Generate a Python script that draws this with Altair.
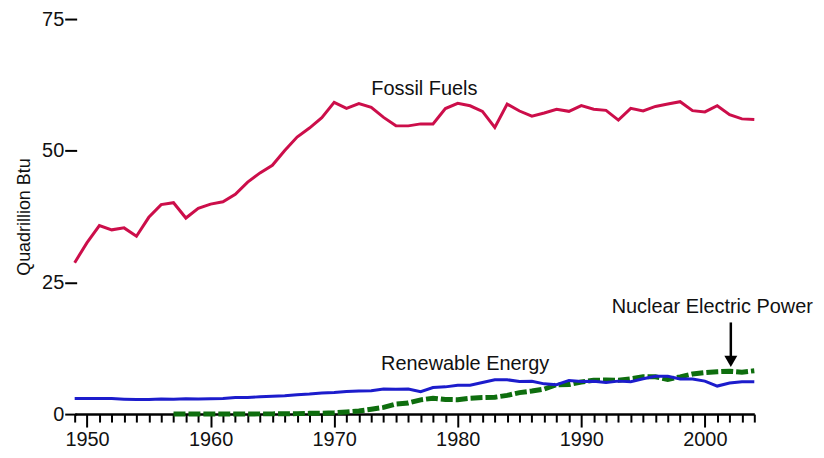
import altair as alt
import pandas as pd

years = list(range(1949, 2005))

fossil = [28.75, 32.56, 35.79, 34.98, 35.35, 33.76, 37.36, 39.77, 40.13, 37.22,
          39.05, 39.87, 40.31, 41.73, 44.04, 45.79, 47.24, 50.04, 52.60, 54.31,
          56.29, 59.19, 58.04, 58.94, 58.24, 56.33, 54.73, 54.72, 55.10, 55.07,
          58.01, 59.01, 58.53, 57.46, 54.42, 58.85, 57.54, 56.58, 57.17, 57.87,
          57.48, 58.56, 57.87, 57.66, 55.82, 58.04, 57.54, 58.41, 58.86, 59.31,
          57.61, 57.37, 58.54, 56.83, 56.05, 55.94]

renewable = [2.97, 2.98, 2.96, 2.94, 2.83, 2.75, 2.78, 2.85, 2.83, 2.90,
             2.86, 2.93, 2.97, 3.13, 3.15, 3.29, 3.40, 3.50, 3.69, 3.80,
             4.02, 4.08, 4.27, 4.40, 4.43, 4.77, 4.72, 4.77, 4.25, 5.04,
             5.17, 5.49, 5.48, 6.00, 6.53, 6.52, 6.19, 6.22, 5.74, 5.57,
             6.39, 6.21, 6.24, 5.99, 6.26, 6.16, 6.70, 7.17, 7.18, 6.66,
             6.68, 6.26, 5.32, 5.90, 6.15, 6.12]

nuclear_years = list(range(1957, 2005))
nuclear = [0.002, 0.002, 0.002, 0.006, 0.020, 0.026, 0.038, 0.040, 0.043, 0.064,
           0.088, 0.142, 0.154, 0.239, 0.413, 0.584, 0.910, 1.272, 1.900, 2.111,
           2.702, 3.024, 2.776, 2.739, 3.008, 3.131, 3.203, 3.553, 4.076, 4.380,
           4.754, 5.587, 5.602, 6.104, 6.422, 6.479, 6.410, 6.694, 7.075, 7.087,
           6.597, 7.068, 7.610, 7.862, 8.033, 8.143, 7.959, 8.232]

label_text = ["Fossil Fuels", "Renewable Energy", "Nuclear Electric Power"]
label_x = [1977.3, 1980.6, 2000.6]
label_y = [61.8, 9.5, 20.3]

arrow_x = [2002.1]
arrow_top = [17.4]
arrow_bottom = [10.8]
arrow_head = [10.0]

tick_years = years
y_ticks = [0, 25, 50, 75]

df_f = pd.DataFrame({"year": years, "value": fossil})
df_r = pd.DataFrame({"year": years, "value": renewable})
df_n = pd.DataFrame({"year": nuclear_years, "value": nuclear})
df_lab = pd.DataFrame({"year": label_x, "value": label_y, "text": label_text})
df_arrow = pd.DataFrame({"year": arrow_x, "top": arrow_top, "bottom": arrow_bottom,
                         "head": arrow_head})

FONT = "Liberation Sans"
TXT = "#111111"
IS_MAJOR = "datum.value % 10 == 0"

xscale = alt.Scale(domain=[1949, 2004], nice=False, zero=False)
yscale = alt.Scale(domain=[0, 75], nice=False)

x_axis = alt.Axis(values=tick_years, format="d", title=None,
                  labelExpr=IS_MAJOR + " ? datum.label : ''",
                  tickSize={"condition": {"test": IS_MAJOR, "value": 13}, "value": 8})
y_axis = alt.Axis(values=y_ticks, title="Quadrillion Btu")

X = alt.X("year:Q", scale=xscale, axis=x_axis)
Y = alt.Y("value:Q", scale=yscale, axis=y_axis)

fossil_line = alt.Chart(df_f).mark_line(color="#cc0e4a", strokeWidth=3).encode(x=X, y=Y)
renew_line = alt.Chart(df_r).mark_line(color="#1c1ccc", strokeWidth=3).encode(x=X, y=Y)
nuc_line = alt.Chart(df_n).mark_line(color="#0e6e0e", strokeWidth=5,
                                     strokeDash=[12, 3]).encode(x=X, y=Y)

labels = alt.Chart(df_lab).mark_text(font=FONT, fontSize=20, color=TXT,
                                     align="center", baseline="middle").encode(
    x=X, y=Y, text="text:N")

arrow_line = alt.Chart(df_arrow).mark_rule(color="black", strokeWidth=2.5).encode(
    x=X, y=alt.Y("top:Q", scale=yscale, axis=y_axis), y2="bottom:Q")
arrow_tip = alt.Chart(df_arrow).mark_point(shape="triangle-down", filled=True, color="black",
                                           size=170, opacity=1).encode(
    x=X, y=alt.Y("head:Q", scale=yscale, axis=y_axis))

chart = alt.layer(fossil_line, nuc_line, renew_line, labels, arrow_line, arrow_tip).properties(
    width=683, height=397,
    autosize=alt.AutoSizeParams(type="none"),
    padding={"left": 67, "top": 10, "right": 62, "bottom": 40},
).configure(background="white").configure_view(
    strokeWidth=0, stroke="transparent"
).configure_axisX(
    tickWidth=2, tickColor="black", domainColor="black", domainWidth=2.5,
    labelFontSize=20, labelFont=FONT, labelColor=TXT, labelPadding=3, grid=False,
    labelFlush=False, labelOverlap=False, labelBound=False
).configure_axisY(
    tickSize=12, tickWidth=2, tickColor="black", domain=False, labelFontSize=20,
    labelFont=FONT, labelColor=TXT, labelPadding=1, grid=False, titleFontSize=18,
    titleFont=FONT, titleFontWeight="normal", titleColor=TXT, titlePadding=8, offset=-2
)

chart.save("out.html", embed_options={"renderer": "svg", "actions": False})
